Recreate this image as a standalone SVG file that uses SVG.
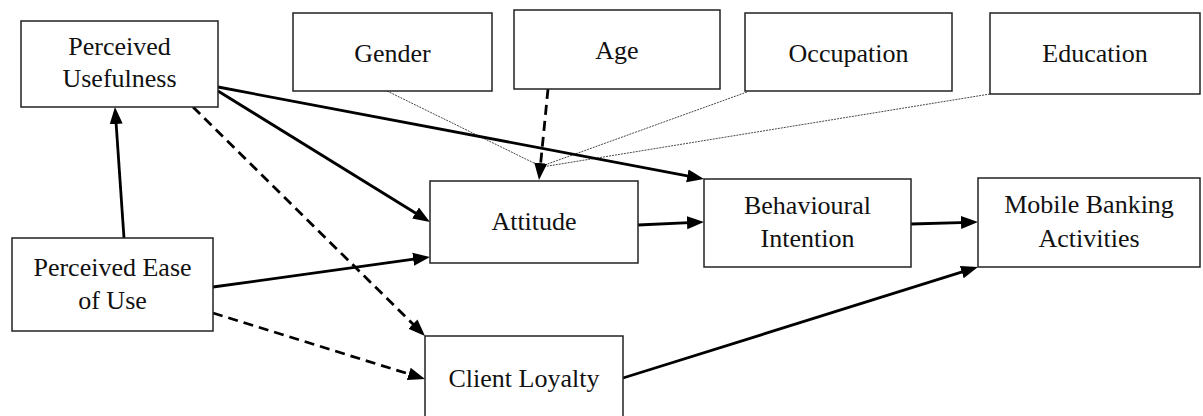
<svg xmlns="http://www.w3.org/2000/svg" width="1203" height="416" viewBox="0 0 1203 416">
<style>
.box{fill:#fff;stroke:#222;stroke-width:1.5}
.s{fill:none;stroke:#000;stroke-width:2.8}
.d{fill:none;stroke:#000;stroke-width:2.8;stroke-dasharray:10 6}
.th{fill:none;stroke:#333;stroke-width:0.9;stroke-dasharray:2 1}
</style>
<defs>
<marker id="ah" markerUnits="userSpaceOnUse" markerWidth="18" markerHeight="14" refX="8" refY="6.5" orient="auto" viewBox="0 0 18 13">
<path d="M0,0 L17,6.5 L0,13 z" fill="#000" stroke="none"/>
</marker>
</defs>
<g id="connectors">
<line class="th" x1="387" y1="91" x2="540" y2="166"/>
<line class="th" x1="747" y1="92" x2="542" y2="166"/>
<line class="th" x1="990" y1="94" x2="542" y2="167"/>
<line class="s" x1="124" y1="238" x2="115.6" y2="116" marker-end="url(#ah)"/>
<line class="s" x1="218" y1="87" x2="695.2" y2="177.3" marker-end="url(#ah)"/>
<line class="s" x1="218" y1="91" x2="422.3" y2="217.3" marker-end="url(#ah)"/>
<line class="d" x1="193" y1="107" x2="418.6" y2="329.7" marker-end="url(#ah)"/>
<line class="s" x1="213" y1="287" x2="421.1" y2="258.2" marker-end="url(#ah)"/>
<line class="d" x1="213" y1="313" x2="416.4" y2="376.3" marker-end="url(#ah)"/>
<line class="s" x1="638" y1="225" x2="695" y2="222.4" marker-end="url(#ah)"/>
<line class="s" x1="911" y1="224" x2="969" y2="222.3" marker-end="url(#ah)"/>
<line class="s" x1="623" y1="378" x2="969.4" y2="269.7" marker-end="url(#ah)"/>
<line class="d" x1="548" y1="89" x2="539.9" y2="171" marker-end="url(#ah)"/>
</g>
<g font-family="Liberation Serif, serif" font-size="26" fill="#111" text-anchor="middle">
<g id="perceived-usefulness">
<rect class="box" x="21" y="21" width="197" height="86"/>
<text x="119.5" y="55">Perceived</text>
<text x="119.5" y="87">Usefulness</text>
</g>
<g id="gender">
<rect class="box" x="293" y="13" width="199" height="78"/>
<text x="392.5" y="62">Gender</text>
</g>
<g id="age">
<rect class="box" x="514" y="10" width="206" height="79"/>
<text x="617" y="59">Age</text>
</g>
<g id="occupation">
<rect class="box" x="745" y="13" width="207" height="78"/>
<text x="848.5" y="62">Occupation</text>
</g>
<g id="education">
<rect class="box" x="990" y="13" width="210" height="81"/>
<text x="1095" y="62">Education</text>
</g>
<g id="attitude">
<rect class="box" x="430" y="181" width="208" height="82"/>
<text x="534" y="230">Attitude</text>
</g>
<g id="behavioural-intention">
<rect class="box" x="704" y="179" width="207" height="88"/>
<text x="807.5" y="214">Behavioural</text>
<text x="807.5" y="247">Intention</text>
</g>
<g id="mobile-banking-activities">
<rect class="box" x="978" y="178" width="222" height="89"/>
<text x="1089" y="213">Mobile Banking</text>
<text x="1089" y="247">Activities</text>
</g>
<g id="perceived-ease-of-use">
<rect class="box" x="12" y="238" width="201" height="93"/>
<text x="112.5" y="276">Perceived Ease</text>
<text x="112.5" y="309">of Use</text>
</g>
<g id="client-loyalty">
<rect class="box" x="425" y="336" width="198" height="84"/>
<text x="524" y="387">Client Loyalty</text>
</g>
</g>
</svg>
